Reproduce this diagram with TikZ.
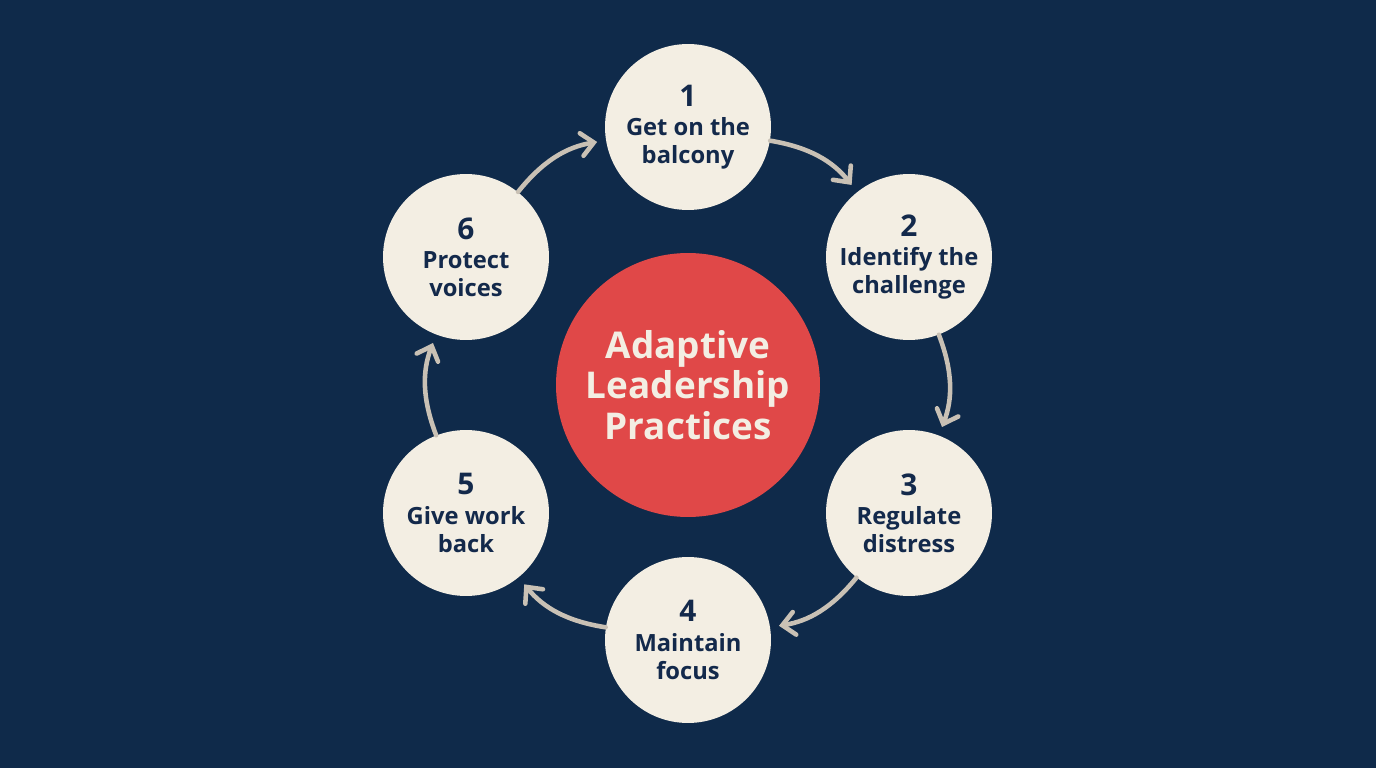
\documentclass[tikz,border=0pt]{standalone}
\usepackage{fontspec}
\setmainfont{Open Sans}
\usetikzlibrary{arrows.meta}
\definecolor{navybg}{HTML}{0F2A4A}
\definecolor{creamfill}{HTML}{F3EEE3}
\definecolor{inkblue}{HTML}{13294B}
\definecolor{corered}{HTML}{E04848}
\definecolor{arrowgrey}{HTML}{C9C1B5}
\begin{document}
\begin{tikzpicture}
    [
        x=0.02cm, y=0.02cm,
        practice/.style={circle, fill=creamfill, minimum size=3.32cm, inner sep=0pt,
            align=center, text=inkblue, font=\fontsize{13.5}{15.8}\selectfont\bfseries},
        core/.style={circle, fill=corered, minimum size=5.28cm, inner sep=0pt,
            align=center, text=creamfill, font=\fontsize{21}{23}\selectfont\bfseries},
        cycle/.style={draw=arrowgrey, line width=2.6pt, line cap=round, bend left=21,
            -{Straight Barb[length=7pt, width=13pt, line cap=round]}, shorten >=5pt},
    ]
    \fill [navybg] (0,0) rectangle (1376,768);
    \node (core) at (688,383) [core] {Adaptive\\Leadership\\Practices};
    \node (s1) at (688,641) [practice] {{\fontsize{17}{17}\selectfont 1}\\[1pt]Get on the\\balcony};
    \node (s2) at (909,511) [practice] {{\fontsize{17}{17}\selectfont 2}\\[1pt]Identify the\\challenge};
    \node (s3) at (909,255) [practice] {{\fontsize{17}{17}\selectfont 3}\\[1pt]Regulate\\distress};
    \node (s4) at (688,128) [practice] {{\fontsize{17}{17}\selectfont 4}\\[1pt]Maintain\\focus};
    \node (s5) at (466,255) [practice] {{\fontsize{17}{17}\selectfont 5}\\[1pt]Give work\\back};
    \node (s6) at (466,511) [practice] {{\fontsize{17}{17}\selectfont 6}\\[1pt]Protect\\voices};
    \draw [cycle] (s1) to (s2);
    \draw [cycle] (s2) to (s3);
    \draw [cycle] (s3) to (s4);
    \draw [cycle] (s4) to (s5);
    \draw [cycle] (s5) to (s6);
    \draw [cycle] (s6) to (s1);
\end{tikzpicture}
\end{document}
